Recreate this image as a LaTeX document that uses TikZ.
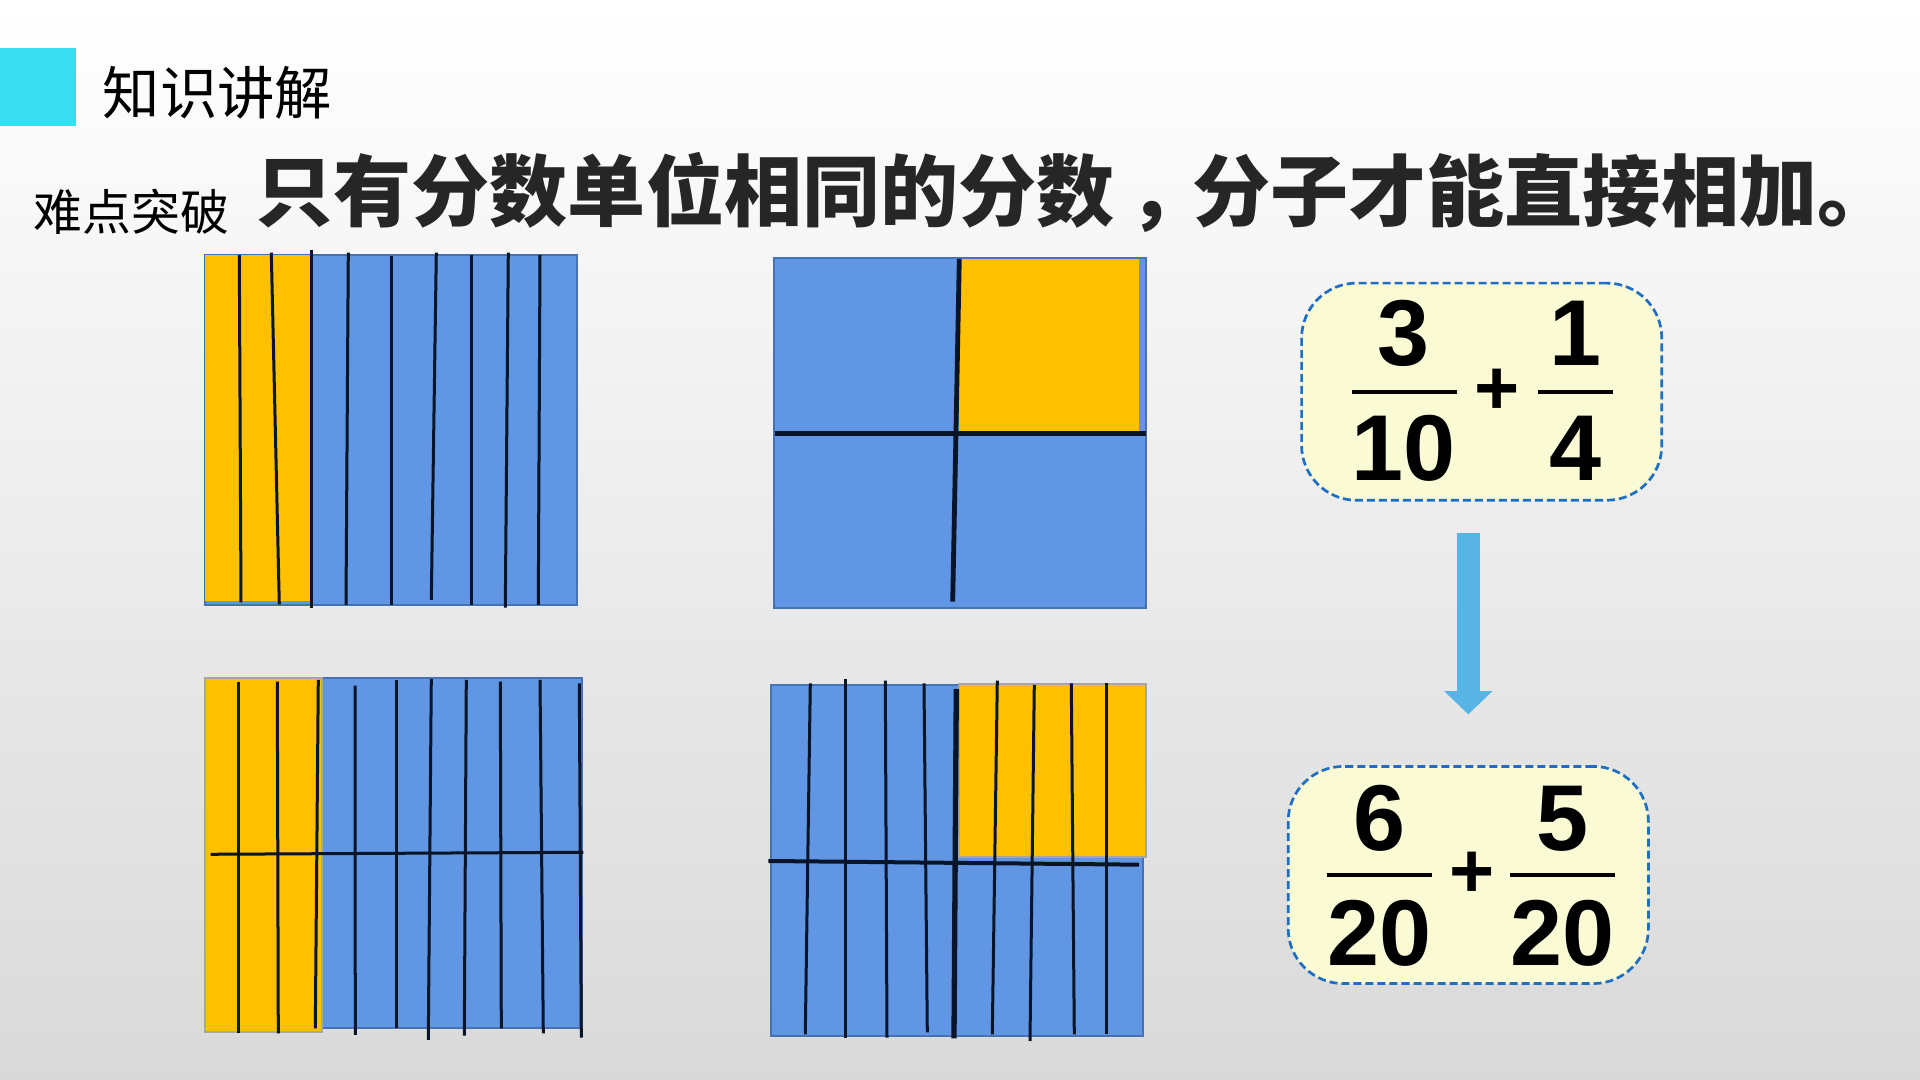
\documentclass[tikz,border=0pt]{standalone}
\usepackage{fontspec}
\setmainfont{Liberation Sans}
\newfontfamily\cjk{Noto Sans CJK SC}
\usetikzlibrary{arrows.meta,calc}
\definecolor{cardblue}{RGB}{96,150,228}
\definecolor{cardedge}{RGB}{70,114,180}
\definecolor{cardgold}{RGB}{255,192,0}
\definecolor{inkline}{RGB}{8,20,40}
\definecolor{tabcyan}{RGB}{56,222,240}
\definecolor{boxfill}{RGB}{250,250,212}
\definecolor{boxedge}{RGB}{30,110,195}
\definecolor{arrowblue}{RGB}{88,180,228}
\definecolor{titlegray}{RGB}{38,38,38}
\definecolor{pagegray}{RGB}{217,217,217}

\begin{document}
\begin{tikzpicture}[x=0.01cm,y=-0.01cm,
    cut/.style={line width=0.03cm,inkline},
    bigcut/.style={line width=0.048cm,inkline},
    part/.style={fill=cardblue,draw=cardedge,line width=0.012cm},
    share/.style={fill=cardgold,draw=gray!70,line width=0.012cm},
    sumbox/.style={draw=boxedge,fill=boxfill,dash pattern=on 0.08cm off 0.04cm,
      line width=0.027cm,rounded corners=0.55cm,minimum width=3.6cm,minimum height=2.17cm},
    digit/.style={inner sep=0pt,font=\fontsize{26.6}{30}\selectfont\bfseries},
    plus/.style={inner sep=0pt,font=\fontsize{22}{24}\selectfont\bfseries},
    bar/.style={line width=0.04cm,black},
    flow/.style={line width=0.233cm,arrowblue,-{Triangle[width=0.47cm,length=0.233cm]}}]

    \useasboundingbox (0,0) rectangle (1920,1080);
    \shade[top color=white,bottom color=pagegray] (0,0) rectangle (1920,1080);

    \fill[tabcyan] (0,48) rectangle (76,126);
    \node[anchor=base west,inner sep=0pt,font=\cjk\fontsize{16.3}{18}\selectfont] (topic) at (102,115) {知识讲解};
    \node[anchor=base west,inner sep=0pt,font=\cjk\fontsize{13.9}{16}\selectfont] (hard) at (33,231) {难点突破};
    \node[anchor=base west,inner sep=0pt,text=titlegray,font=\cjk\fontsize{22.2}{24}\bfseries\selectfont] (rule) at (255,221)
      {只有分数单位相同的分数\kern0.18em，\kern-0.18em分子才能直接相加。};

    % 3/10
    \draw[part] (205,255) rectangle (577,605);
    \fill[cardgold] (205,255) rectangle (311,601);
    \foreach \xa/\ya/\xb/\yb in {
        239.3/255/241/602.3,
        271.3/252.7/279.3/604.3,
        311.3/250/311.3/607.7,
        348.3/252.7/346/605,
        391/256/391/605,
        436.3/252.7/431.3/600,
        471.3/255/471.3/605,
        508.3/252.7/505.3/607.7,
        540/255/538.3/605}{
      \draw[cut] (\xa,\ya) -- (\xb,\yb);
    }

    % 1/4
    \draw[part] (774,258) rectangle (1146,608);
    \fill[cardgold] (959,259) rectangle (1139,433);
    \draw[bigcut] (775,433.3) -- (1146,433.3);
    \draw[bigcut] (959.3,259) -- (952.7,601.7);

    % 6/20
    \draw[part] (205,678) rectangle (582,1028);
    \draw[share] (205,678) rectangle (322,1032);
    \draw[cut] (210.7,854.3) -- (583.3,852.3);
    \foreach \xa/\ya/\xb/\yb in {
        238.3/681.7/238.3/1033.3,
        277.3/681.7/278.3/1033.3,
        318.3/680/315.3/1028.3,
        355/685.7/355.3/1035,
        396.3/680/396.3/1028.3,
        431.3/679/428.3/1040,
        466.3/680/464.3/1035.7,
        500.3/681.7/501.3/1028.3,
        540/680/543.3/1033.3,
        579.3/683.3/581.3/1037.7}{
      \draw[cut] (\xa,\ya) -- (\xb,\yb);
    }

    % 5/20
    \draw[part] (771,685) rectangle (1143,1036);
    \draw[share] (959,684) rectangle (1146,857);
    \foreach \xa/\ya/\xb/\yb in {
        810.3/683.3/805.3/1034.3,
        845.3/679/845.3/1037.7,
        885.3/680.7/887/1037.7,
        924/683.3/927.3/1032.3,
        997.3/680.7/992.3/1034.3,
        1034.3/685/1030/1041,
        1071.3/683.3/1074.3/1034.3,
        1106.3/683.3/1106.3/1034.3}{
      \draw[cut] (\xa,\ya) -- (\xb,\yb);
    }
    \draw[line width=0.04cm,inkline] (768.3,861) -- (1139,864.7);
    \draw[line width=0.053cm,inkline] (956.3,689) -- (954,1038.3);

    % sums
    \node[sumbox] (first) at (1481.7,391.7) {};
    \node[sumbox] (second) at (1468.3,875) {};
    \foreach \x/\y/\t/\n in {
        1404/333.4/3/numA,
        1404/448/10/denA,
        1575.5/333.4/1/numB,
        1575.5/448/4/denB,
        1379.5/818.3/6/numC,
        1379.5/933/20/denC,
        1562.5/818.3/5/numD,
        1562.5/933/20/denD}{
      \node[digit] (\n) at (\x,\y) {\t};
    }
    \draw[bar] (1351.7,391.7) -- (1456.7,391.7);
    \draw[bar] (1537.7,391.7) -- (1613.3,391.7);
    \draw[bar] (1326.7,875) -- (1432.3,875);
    \draw[bar] (1510,875) -- (1615,875);
    \node[plus] (plusA) at (1497,391.7) {+};
    \node[plus] (plusB) at (1472.3,875) {+};

    \draw[flow] ($(second.north |- first.south)+(0,31.7)$) -- ($(second.north)+(0,-50.7)$);
  \end{tikzpicture}
\end{document}
